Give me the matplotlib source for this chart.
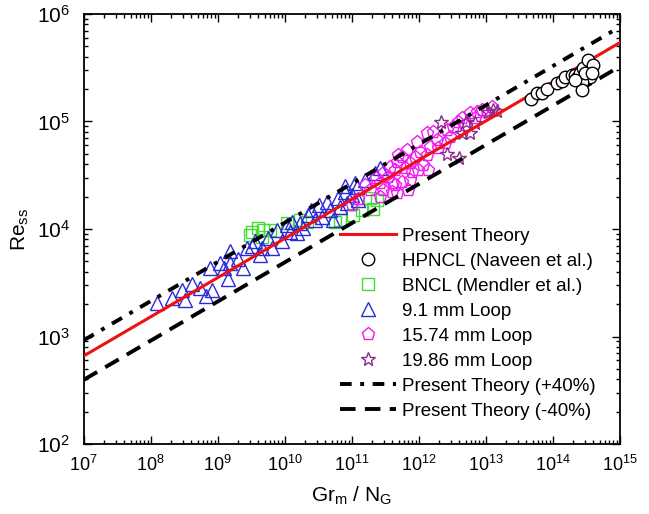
import matplotlib
matplotlib.use('Agg')
import matplotlib.pyplot as plt
import numpy as np

plt.rcParams['font.family'] = ['Liberation Sans', 'DejaVu Sans']
plt.rcParams['mathtext.fontset'] = 'custom'
plt.rcParams['mathtext.rm'] = 'Liberation Sans'
plt.rcParams['mathtext.it'] = 'Liberation Sans:italic'

# Present theory (end points)
theory_x = [1e7, 1e15]
theory_re = [6.6e2, 5.4e5]

# HPNCL (Naveen et al.)
hpncl_x = [4.7e13, 5.77e13, 6.85e13, 8.13e13, 1.15e14, 1.36e14, 1.51e14, 1.92e14,
           2.13e14, 2.28e14, 2.53e14, 2.81e14, 3.33e14, 3.95e14, 3.56e14, 2.71e14,
           3.0e14, 3.82e14, 2.71e14, 2.13e14]
hpncl_re = [1.61e5, 1.83e5, 1.83e5, 2.0e5, 2.28e5, 2.37e5, 2.59e5, 2.7e5,
            2.7e5, 2.53e5, 2.82e5, 3.14e5, 3.73e5, 3.34e5, 2.59e5, 2.32e5,
            2.82e5, 2.82e5, 1.96e5, 2.43e5]

# BNCL (Mendler et al.)
bncl_x = [3.96e9, 3.3e9, 3.0e9, 4.7e9, 6.0e9, 4.6e9, 1.67e10, 2.14e10, 1.08e10,
          1.86e11, 2.35e11, 2.05e11, 1.4e11, 1.03e11, 6.6e10, 5.6e10]
bncl_re = [1.03e4, 9.3e3, 8.7e3, 9.7e3, 9.7e3, 8.5e3, 1.2e4, 1.15e4, 1.13e4,
           1.93e4, 1.85e4, 1.55e4, 1.49e4, 1.34e4, 1.2e4, 1.15e4]

# 9.1 mm loop
loop91_x = [1.23e8, 2.1e8, 2.9e8, 3.3e8, 4.1e8, 5.4e8, 6.6e8, 8.1e8, 7.6e8, 1.07e9,
            1.23e9, 1.5e9, 1.5e9, 1.4e9, 2.0e9, 2.35e9, 2.7e9, 3.2e9, 4.3e9, 4.6e9,
            5.6e9, 6.4e9, 9.1e9, 1.08e10, 1.18e10, 1.5e10, 1.67e10, 1.85e10, 2.5e10,
            2.8e10, 3.6e10, 4.2e10, 4.7e10, 5.2e10, 6.2e10, 6.6e10, 7.9e10, 8.5e10,
            1.0e11, 1.18e11, 1.23e11, 1.55e11, 2.2e11, 2.6e11, 7.9e10, 1.1e11,
            3.3e10, 2.2e10, 1.3e10, 7.6e9, 3.6e9]
loop91_re = [2.07e3, 2.3e3, 2.7e3, 2.2e3, 3.1e3, 2.8e3, 2.4e3, 2.7e3, 4.3e3, 4.8e3,
             4.3e3, 6.3e3, 4.8e3, 3.45e3, 5.3e3, 4.3e3, 6.6e3, 7.0e3, 5.7e3, 6.7e3,
             8.3e3, 6.7e3, 7.8e3, 1.08e4, 9.3e3, 9.1e3, 1.13e4, 1.03e4, 1.49e4,
             1.2e4, 1.28e4, 1.77e4, 1.49e4, 1.2e4, 1.93e4, 1.6e4, 2.19e4, 1.73e4,
             2.05e4, 2.44e4, 1.85e4, 2.83e4, 3.29e4, 3.66e4, 2.5e4, 2.7e4,
             1.66e4, 1.34e4, 1.15e4, 9.7e3, 7.8e3]

# 15.74 mm loop
loop1574_x = [1.0e11, 1.23e11, 1.56e11, 1.86e11, 2.28e11, 2.62e11, 2.62e11, 2.9e11,
              2.9e11, 3.44e11, 3.69e11, 3.95e11, 4.09e11, 4.39e11, 4.7e11, 4.7e11,
              4.86e11, 5.57e11, 5.57e11, 6.18e11, 6.62e11, 6.85e11, 7.35e11, 7.35e11,
              8.71e11, 9.33e11, 9.66e11, 1.04e12, 1.15e12, 1.31e12, 1.31e12, 1.36e12,
              1.46e12, 1.62e12, 1.86e12, 1.92e12, 2.44e12, 2.62e12, 2.9e12, 3.21e12,
              3.82e12, 4.39e12, 4.86e12, 5.77e12, 6.85e12, 7.35e12, 8.71e12, 1.04e13,
              1.23e13, 4.39e11, 7.87e11]
loop1574_re = [1.66e4, 1.92e4, 2.55e4, 2.29e4, 2.96e4, 2.65e4, 1.97e4, 3.29e4,
               2.29e4, 3.02e4, 3.74e4, 2.19e4, 2.65e4, 3.51e4, 4.17e4, 2.14e4,
               4.84e4, 4.65e4, 2.72e4, 3.66e4, 5.4e4, 2.29e4, 4.08e4, 2.83e4,
               4.65e4, 6.41e4, 3.51e4, 5.16e4, 3.91e4, 7.76e4, 4.84e4, 3.51e4,
               5.75e4, 7.94e4, 6.68e4, 5.64e4, 6.27e4, 8.28e4, 7.13e4, 8.83e4,
               9.84e4, 1.07e5, 9.23e4, 1.19e5, 1.07e5, 1.22e5, 1.27e5, 1.22e5,
               1.36e5, 2.55e4, 3.37e4]

# 19.86 mm loop
loop1986_x = [2.13e12, 2.62e12, 3.95e12, 4.39e12, 5.02e12, 5.77e12, 6.85e12,
              1.07e13, 1.27e13, 1.46e13]
loop1986_re = [9.84e4, 4.95e4, 4.54e4, 7.76e4, 9.84e4, 7.76e4, 9.63e4,
               1.22e5, 1.27e5, 1.25e5]

fig = plt.figure(figsize=(6.49, 5.14), dpi=100)
ax = fig.add_axes([0.129, 0.136, 0.826, 0.837])

ax.plot(hpncl_x, hpncl_re, 'o', ms=9, mfc='white', mec='black', mew=1.0,
        ls='none', zorder=5, label='HPNCL (Naveen et al.)')
ax.plot(bncl_x, bncl_re, 's', ms=8, mfc='none', mec='#44dd33', mew=1.0,
        ls='none', zorder=2, label='BNCL (Mendler et al.)')
ax.plot(loop91_x, loop91_re, '^', ms=9.5, mfc='none', mec='#2a2ad8', mew=1.0,
        ls='none', zorder=2, label='9.1 mm Loop')
ax.plot(loop1574_x, loop1574_re, 'p', ms=9.5, mfc='none', mec='#f019f0', mew=1.0,
        ls='none', zorder=2, label='15.74 mm Loop')
ax.plot(loop1986_x, loop1986_re, '*', ms=10, mfc='none', mec='#8a2a8a', mew=1.0,
        ls='none', zorder=2, label='19.86 mm Loop')

th_x = np.array(theory_x)
th_re = np.array(theory_re)
ax.plot(th_x, th_re, color='#ee1111', lw=2.2, zorder=4, label='Present Theory')
ax.plot(th_x, th_re * 1.4, color='black', lw=2.8, zorder=3,
        dashes=(3.0, 2.2, 1.0, 2.2), label='Present Theory (+40%)')
ax.plot(th_x, th_re * 0.6, color='black', lw=2.8, zorder=3,
        dashes=(4.0, 2.4), label='Present Theory (-40%)')

ax.set_xscale('log')
ax.set_yscale('log')
ax.set_xlim(1e7, 1e15)
ax.set_ylim(1e2, 1e6)
ax.xaxis.set_major_locator(matplotlib.ticker.LogLocator(base=10, numticks=20))
ax.xaxis.set_minor_locator(matplotlib.ticker.LogLocator(base=10, subs=np.arange(2, 10), numticks=20))

for s in ax.spines.values():
    s.set_linewidth(1.3)
ax.tick_params(which='both', direction='in', top=True, right=True, width=1.0)
ax.tick_params(axis='x', labelsize=13)
ax.tick_params(axis='y', labelsize=15)
ax.tick_params(which='major', length=6, pad=8)
ax.tick_params(which='minor', length=3)
ax.tick_params(axis='y', which='major', pad=10)

ax.set_xlabel(r'Gr$_{\mathrm{m}}$ / N$_{\mathrm{G}}$', fontsize=15, labelpad=7)
ax.set_ylabel(r'Re$_{\mathrm{ss}}$', fontsize=15, labelpad=4)

handles, labels = ax.get_legend_handles_labels()
order = ['Present Theory', 'HPNCL (Naveen et al.)', 'BNCL (Mendler et al.)', '9.1 mm Loop',
         '15.74 mm Loop', '19.86 mm Loop', 'Present Theory (+40%)', 'Present Theory (-40%)']
hmap = dict(zip(labels, handles))
ax.legend([hmap[k] for k in order], order, loc='lower right', bbox_to_anchor=(1.0, 0.0),
          frameon=False, fontsize=13.5, handlelength=3.0, labelspacing=0.42,
          handletextpad=0.3, borderaxespad=0.9)

plt.savefig('out.png', dpi=100)
